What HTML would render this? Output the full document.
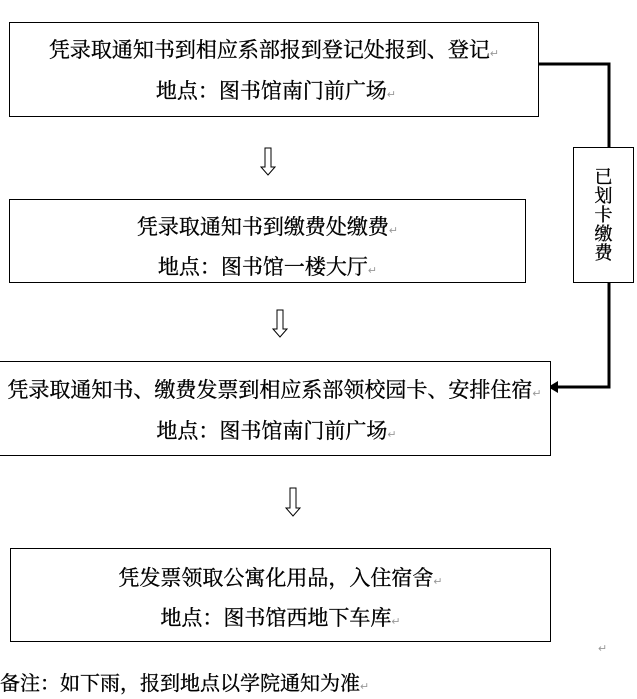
<!DOCTYPE html>
<html><head><meta charset="utf-8"><style>
body{margin:0;width:637px;height:699px;background:#fff;position:relative;overflow:hidden;font-family:"Liberation Serif","Noto Serif CJK SC","Noto Sans CJK SC",serif;color:#000}
.b{position:absolute;border:1.5px solid #000;box-sizing:border-box;background:#fff}
.t{position:absolute;left:0;right:0;text-align:center;font-size:21px;line-height:24px;white-space:nowrap;-webkit-text-stroke:0.35px #000}
.p{color:#999;font-size:11px;-webkit-text-stroke:0}
.s{position:absolute;font-size:20px;white-space:nowrap;-webkit-text-stroke:0.35px #000}
.m{position:absolute;color:#999;font-size:11px}
</style></head><body>
<svg width="637" height="699" style="position:absolute;left:0;top:0">
<polyline points="538,64 609,64 609,387 556,387" fill="none" stroke="#000" stroke-width="3"/>
<polygon points="548,387 558,381 558,393" fill="#000"/>
<g fill="#fff" stroke="#000" stroke-width="1">
<polygon points="265,148 271,148 271,167 275,167 268,175 261,167 265,167"/>
<polygon points="277,310 283,310 283,329 287,329 280,337 273,329 277,329"/>
<polygon points="290,488 296,488 296,508 300,508 293,516 286,508 290,508"/>
</g>
</svg>
<div class="b" style="left:9px;top:22px;width:530px;height:95px">
<div class="t" style="top:15px">凭录取通知书到相应系部报到登记处报到、登记<span class="p">↵</span></div>
<div class="t" style="top:56px;padding-left:4px">地点：图书馆南门前广场<span class="p">↵</span></div>
</div>
<div class="b" style="left:9px;top:199px;width:517px;height:84px">
<div class="t" style="top:15px">凭录取通知书到缴费处缴费<span class="p">↵</span></div>
<div class="t" style="top:55px">地点：图书馆一楼大厅<span class="p">↵</span></div>
</div>
<div class="b" style="left:-2px;top:361px;width:553px;height:95px">
<div class="t" style="top:16px">凭录取通知书、缴费发票到相应系部领校园卡、安排住宿<span class="p">↵</span></div>
<div class="t" style="top:57px;padding-left:4px">地点：图书馆南门前广场<span class="p">↵</span></div>
</div>
<div class="b" style="left:10px;top:548px;width:541px;height:94px">
<div class="t" style="top:17px">凭发票领取公寓化用品，入住宿舍<span class="p">↵</span></div>
<div class="t" style="top:57px">地点：图书馆西地下车库<span class="p">↵</span></div>
</div>
<div class="b" style="left:573px;top:147px;width:61px;height:136px">
<div style="position:absolute;left:0;right:0;top:20px;text-align:center;font-size:18px;line-height:19px;-webkit-text-stroke:0.35px #000">已<br>划<br>卡<br>缴<br>费</div>
</div>
<div class="m" style="left:598px;top:642px">↵</div>
<div class="s" style="left:0;top:667px">备注：如下雨，报到地点以学院通知为准<span class="p">↵</span></div>
</body></html>
